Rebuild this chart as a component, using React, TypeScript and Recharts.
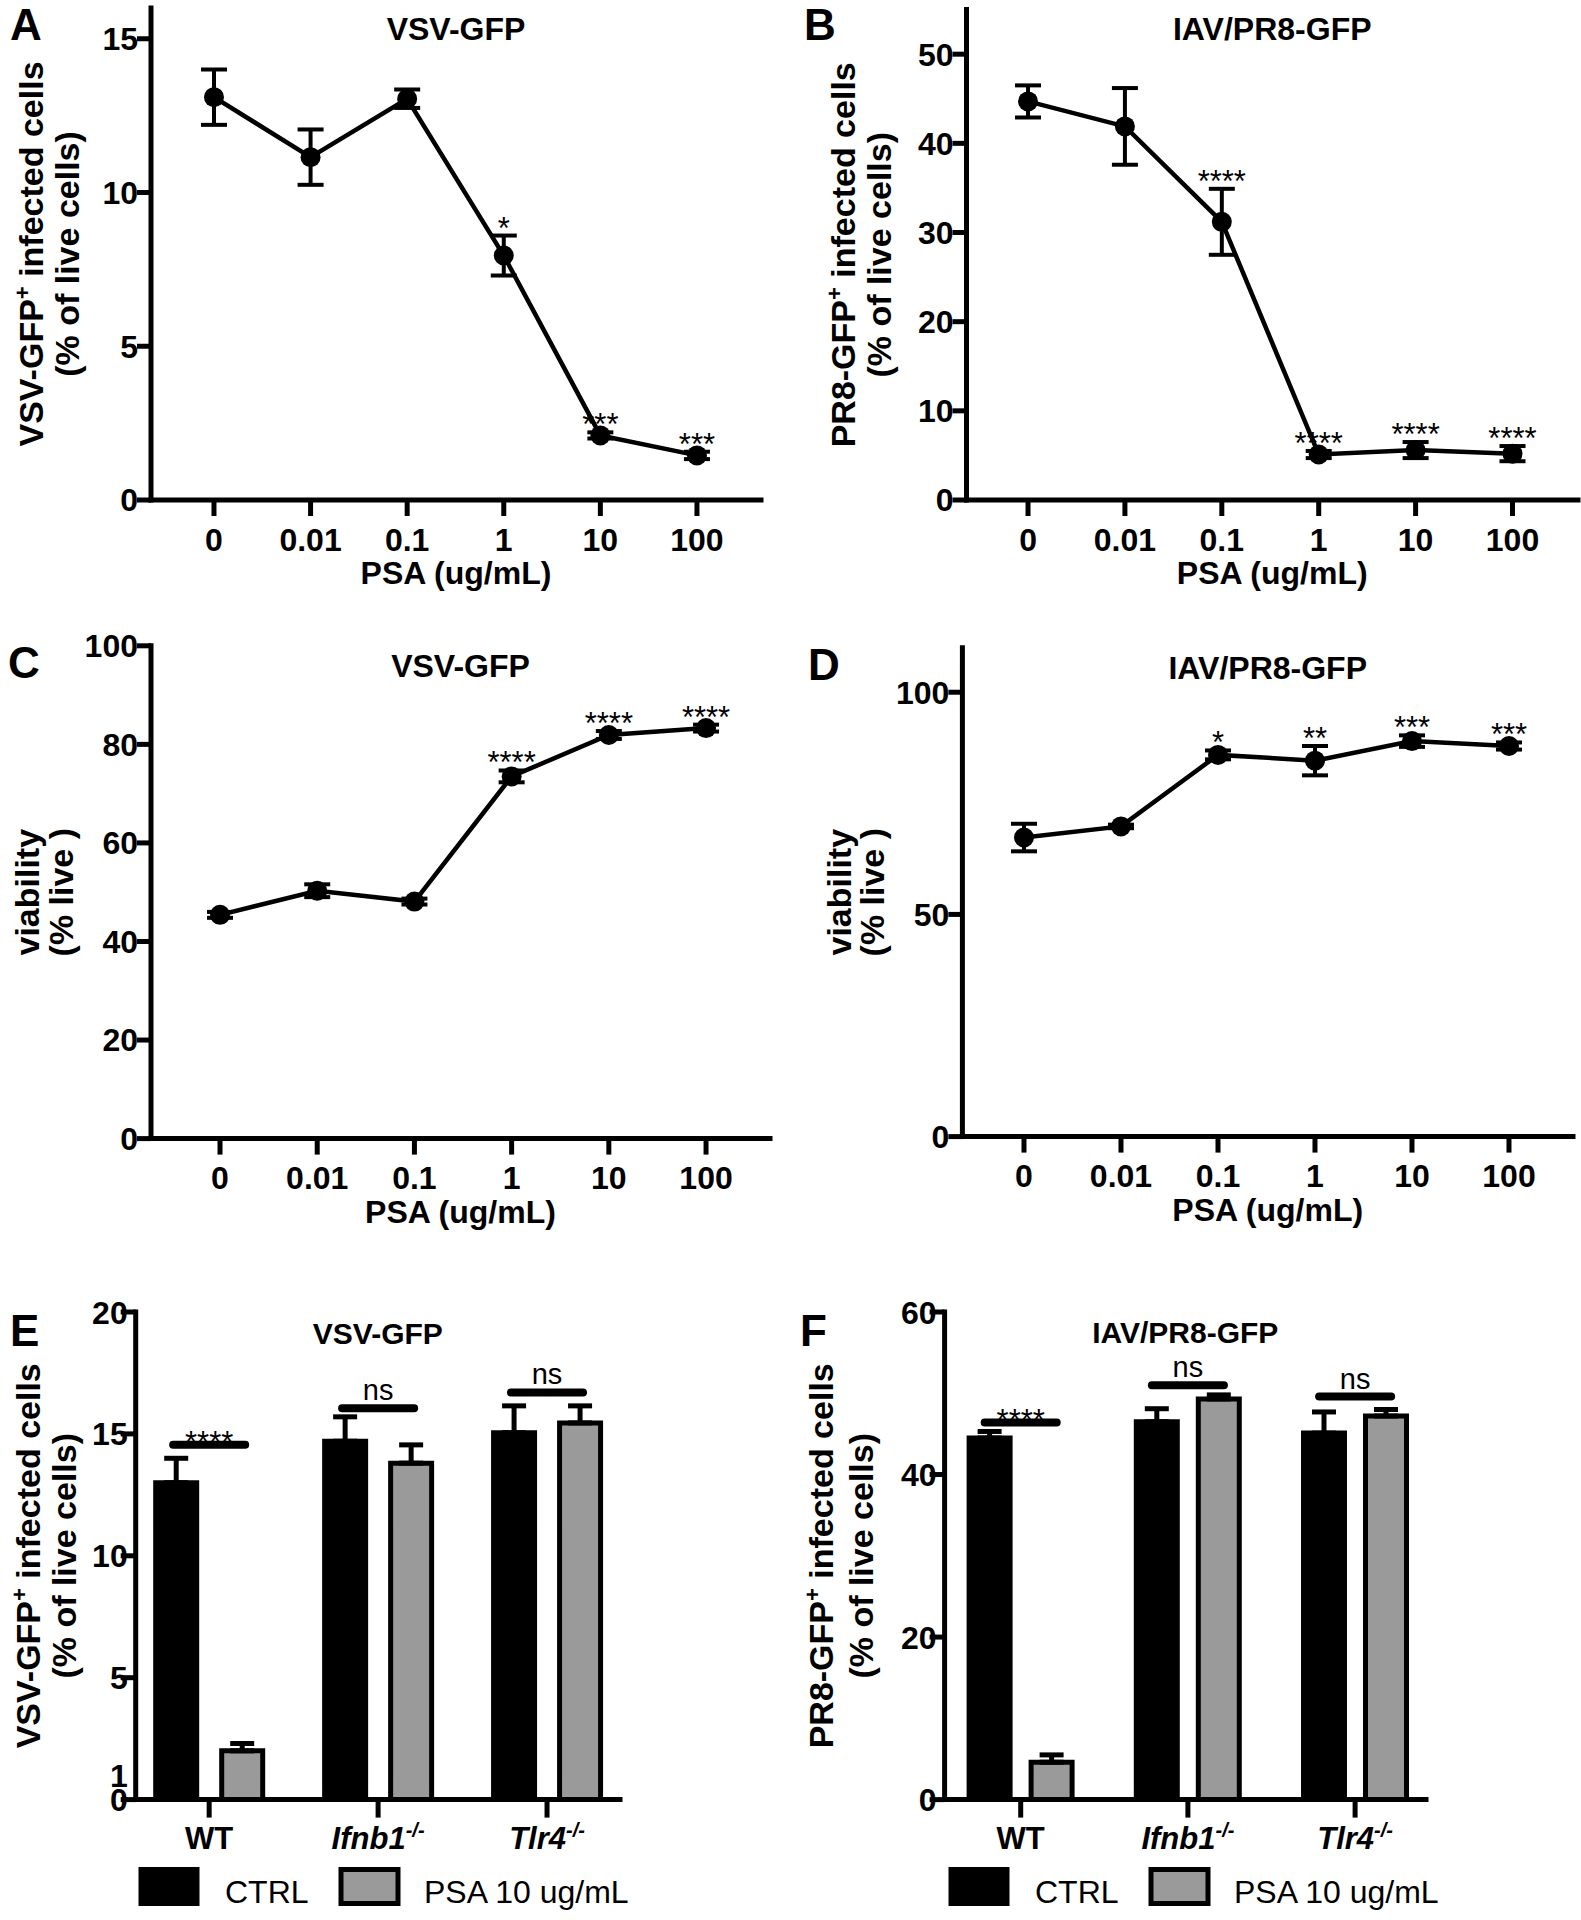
import {
  Bar,
  ComposedChart,
  ErrorBar,
  LabelList,
  Line,
  LineChart,
  ReferenceLine,
  XAxis,
  YAxis,
} from 'recharts'

const FONT = "'Liberation Sans', Arial, Helvetica, sans-serif"

// x categories for the dose-response panels
const DOSES = ['0', '0.01', '0.1', '1', '10', '100']

// A: VSV-GFP infected cells
const A_MEAN = [13.1, 11.15, 13.05, 7.95, 2.1, 1.45]
const A_SEM = [0.9, 0.9, 0.3, 0.65, 0.1, 0.12]
const A_SIG = ['', '', '', '*', '***', '***']

// B: PR8-GFP infected cells
const B_MEAN = [44.7, 41.9, 31.2, 5.1, 5.6, 5.2]
const B_SEM = [1.8, 4.3, 3.7, 0.4, 0.9, 0.85]
const B_SIG = ['', '', '****', '****', '****', '****']

// C: viability, VSV-GFP
const C_MEAN = [45.4, 50.3, 48.1, 73.5, 81.9, 83.3]
const C_SEM = [0.6, 1.3, 0.6, 1.2, 0.8, 0.7]
const C_SIG = ['', '', '', '****', '****', '****']

// D: viability, IAV/PR8-GFP
const D_MEAN = [67.3, 69.8, 85.9, 84.6, 89.0, 87.9]
const D_SEM = [3.1, 0.4, 1.0, 3.3, 1.3, 0.8]
const D_SIG = ['', '', '*', '**', '***', '***']

// E/F: genotypes
const GENOTYPES = ['WT', 'Ifnb1', 'Tlr4']
const GENO_SUP = ['', '-/-', '-/-']

const E_CTRL = [13.0, 14.7, 15.05]
const E_CTRL_SEM = [1.0, 1.0, 1.1]
const E_PSA = [2.0, 13.8, 15.45]
const E_PSA_SEM = [0.3, 0.75, 0.7]
const E_SIG_Y = [14.55, 16.05, 16.7]
const E_SIG = ['****', 'ns', 'ns']

const F_CTRL = [44.5, 46.5, 45.1]
const F_CTRL_SEM = [0.8, 1.6, 2.6]
const F_PSA = [4.6, 49.3, 47.2]
const F_PSA_SEM = [0.9, 0.5, 0.8]
const F_SIG_Y = [46.4, 51.0, 49.6]
const F_SIG = ['****', 'ns', 'ns']

const YW = 100
const XH = 100
const GRAY = '#9a9a9a'
const AXIS_LINE = { stroke: '#000', strokeWidth: 5, strokeLinecap: 'square' as const }
const TICK_LINE = { stroke: '#000', strokeWidth: 5 }
const SIG_HALF_PX = 36

type Geo = { left: number; top: number; w: number; h: number; pl: number; pt: number; pr: number; pb: number }

function marginOf(g: Geo) {
  return { top: g.pt, left: g.pl - YW, right: g.w - g.pr, bottom: g.h - g.pb - XH }
}

function Overlay({
  geo,
  letter,
  letterPos,
  title,
  titleY,
  titleSize,
  yLines,
  yOff,
  legend,
}: {
  geo: Geo
  letter: string
  letterPos: [number, number]
  title: string
  titleY: number
  titleSize: number
  yLines: [string, string, string, string]
  yOff: [number, number]
  legend?: number
}) {
  const cy = (geo.pt + geo.pb) / 2
  const cx = (geo.pl + geo.pr) / 2
  return (
    <svg
      width={geo.w}
      height={geo.h}
      style={{ position: 'absolute', left: 0, top: 0, pointerEvents: 'none', overflow: 'visible' }}
      fontFamily={FONT}
    >
      <text x={letterPos[0]} y={letterPos[1]} fontSize={44} fontWeight={700} fill="#000">
        {letter}
      </text>
      <text x={cx} y={titleY} textAnchor="middle" fontSize={titleSize} fontWeight={700} fill="#000">
        {title}
      </text>
      <text
        transform="rotate(-90)"
        x={-cy}
        y={geo.pl - yOff[0]}
        textAnchor="middle"
        fontSize={34}
        fontWeight={700}
        fill="#000"
      >
        {yLines[0]}
        {yLines[1] ? (
          <tspan dy={-13} fontSize={22}>
            {yLines[1]}
          </tspan>
        ) : null}
        {yLines[2] ? <tspan dy={yLines[1] ? 13 : 0}>{yLines[2]}</tspan> : null}
      </text>
      <text
        transform="rotate(-90)"
        x={-cy}
        y={geo.pl - yOff[1]}
        textAnchor="middle"
        fontSize={34}
        fontWeight={700}
        fill="#000"
      >
        {yLines[3]}
      </text>
      {legend !== undefined ? (
        <g>
          <rect x={legend} y={579.5} width={56} height={34} fill="#000" stroke="#000" strokeWidth={5} />
          <text x={legend + 84} y={613} fontSize={32} fill="#000">
            CTRL
          </text>
          <rect x={legend + 200} y={579.5} width={57} height={34} fill={GRAY} stroke="#000" strokeWidth={5} />
          <text x={legend + 283} y={613} fontSize={32} fill="#000">
            PSA 10 ug/mL
          </text>
        </g>
      ) : null}
    </svg>
  )
}

type LinePanelProps = {
  geo: Geo
  letter: string
  letterPos: [number, number]
  title: string
  titleY: number
  yLines: [string, string, string, string]
  yOff: [number, number]
  mean: number[]
  sem: number[]
  sig: string[]
  yDomain: [number, number]
  yTicks: number[]
  xDomain: [number, number]
}

function LinePanel(p: LinePanelProps) {
  const { geo } = p
  const rows = p.mean.map((m, i) => ({
    x: i,
    mean: m,
    sem: [p.sem[i], p.sem[i]],
    hi: m + p.sem[i],
    sig: p.sig[i],
  }))
  return (
    <div style={{ position: 'absolute', left: geo.left, top: geo.top, width: geo.w, height: geo.h }}>
      <LineChart width={geo.w} height={geo.h} data={rows} margin={marginOf(geo)}>
        <XAxis
          type="number"
          dataKey="x"
          domain={p.xDomain}
          allowDataOverflow
          ticks={DOSES.map((_, i) => i)}
          interval={0}
          tickFormatter={(v) => DOSES[v as number]}
          height={XH}
          tickSize={16}
          tickMargin={12}
          axisLine={AXIS_LINE}
          tickLine={TICK_LINE}
          tick={{ fill: '#000', fontSize: 32, fontWeight: 700, fontFamily: FONT }}
          label={{
            value: 'PSA (ug/mL)',
            position: 'insideBottom',
            offset: 16,
            fill: '#000',
            fontSize: 32,
            fontWeight: 700,
            fontFamily: FONT,
          }}
        />
        <YAxis
          type="number"
          domain={p.yDomain}
          allowDataOverflow
          ticks={p.yTicks}
          interval={0}
          width={YW}
          tickSize={14}
          tickMargin={-1}
          axisLine={AXIS_LINE}
          tickLine={TICK_LINE}
          tick={{ fill: '#000', fontSize: 32, fontWeight: 700, fontFamily: FONT }}
        />
        <Line
          dataKey="mean"
          stroke="#000"
          strokeWidth={4.5}
          dot={{ r: 10, fill: '#000', stroke: 'none' }}
          activeDot={false}
          isAnimationActive={false}
        >
          <ErrorBar dataKey="sem" width={13} strokeWidth={4} stroke="#000" direction="y" />
        </Line>
        <Line dataKey="hi" stroke="none" dot={false} activeDot={false} isAnimationActive={false}>
          <LabelList dataKey="sig" position="top" offset={-3} fill="#000" fontSize={31} fontFamily={FONT} />
        </Line>
      </LineChart>
      <Overlay
        geo={geo}
        letter={p.letter}
        letterPos={p.letterPos}
        title={p.title}
        titleY={p.titleY}
        titleSize={32}
        yLines={p.yLines}
        yOff={p.yOff}
      />
    </div>
  )
}

function GenoTick(props: any) {
  const { x, y, payload } = props
  const i = GENOTYPES.indexOf(payload.value)
  const sup = GENO_SUP[i]
  return (
    <text
      x={x}
      y={y + 31}
      textAnchor="middle"
      fontFamily={FONT}
      fontSize={31}
      fontWeight={700}
      fontStyle={sup ? 'italic' : 'normal'}
      fill="#000"
    >
      {payload.value}
      {sup ? (
        <tspan dy={-12} fontSize={20}>
          {sup}
        </tspan>
      ) : null}
    </text>
  )
}

function makeBarYTick(noLine: number[]) {
  return function BarYTick(props: any) {
    const { x, y, payload } = props
    return (
      <g>
        {noLine.includes(payload.value) ? null : (
          <line x1={x - 15} x2={x} y1={y} y2={y} stroke="#000" strokeWidth={5} />
        )}
        <text x={x - 8} y={y} dy="0.36em" textAnchor="end" fontFamily={FONT} fontSize={32} fontWeight={700} fill="#000">
          {payload.value}
        </text>
      </g>
    )
  }
}

// significance bracket drawn at the category centre given by the reference line
function SigMark(props: any) {
  const { x1, y1, text } = props
  const isNs = text === 'ns'
  return (
    <g>
      <line
        x1={x1 - SIG_HALF_PX}
        x2={x1 + SIG_HALF_PX}
        y1={y1}
        y2={y1}
        stroke="#000"
        strokeWidth={8}
        strokeLinecap="round"
      />
      <text
        x={x1}
        y={isNs ? y1 - 8 : y1 + 8}
        textAnchor="middle"
        fontFamily={FONT}
        fontSize={isNs ? 29 : 31}
        fill="#000"
      >
        {text}
      </text>
    </g>
  )
}

type BarPanelProps = {
  geo: Geo
  letter: string
  letterPos: [number, number]
  title: string
  titleY: number
  yLines: [string, string, string, string]
  yOff: [number, number]
  ctrl: number[]
  ctrlSem: number[]
  psa: number[]
  psaSem: number[]
  sigY: number[]
  sig: string[]
  yDomain: [number, number]
  yTicks: number[]
  noLineTicks: number[]
  padL: number
  padR: number
  barGap: number
  legendX: number
}

function BarPanel(p: BarPanelProps) {
  const { geo } = p
  const rows = GENOTYPES.map((g, i) => ({
    g,
    ctrl: p.ctrl[i],
    ctrlErr: [0, p.ctrlSem[i]],
    psa: p.psa[i],
    psaErr: [0, p.psaSem[i]],
  }))
  const YTick = makeBarYTick(p.noLineTicks)
  return (
    <div style={{ position: 'absolute', left: geo.left, top: geo.top, width: geo.w, height: geo.h }}>
      <ComposedChart width={geo.w} height={geo.h} data={rows} margin={marginOf(geo)} barSize={41} barGap={p.barGap}>
        <XAxis
          dataKey="g"
          padding={{ left: p.padL, right: p.padR }}
          height={XH}
          interval={0}
          tickSize={18}
          tickMargin={0}
          axisLine={AXIS_LINE}
          tickLine={TICK_LINE}
          tick={<GenoTick />}
        />
        <YAxis
          type="number"
          domain={p.yDomain}
          allowDataOverflow
          ticks={p.yTicks}
          interval={0}
          width={YW}
          tickSize={0}
          tickMargin={0}
          axisLine={AXIS_LINE}
          tickLine={false}
          tick={<YTick />}
        />
        <Bar dataKey="ctrl" fill="#000" stroke="#000" strokeWidth={5} isAnimationActive={false}>
          <ErrorBar dataKey="ctrlErr" width={12} strokeWidth={5} stroke="#000" direction="y" />
        </Bar>
        <Bar dataKey="psa" fill={GRAY} stroke="#000" strokeWidth={5} isAnimationActive={false}>
          <ErrorBar dataKey="psaErr" width={12} strokeWidth={5} stroke="#000" direction="y" />
        </Bar>
        {p.sigY.map((v, i) => (
          <ReferenceLine
            key={i}
            segment={[
              { x: GENOTYPES[i], y: v },
              { x: GENOTYPES[i], y: v },
            ]}
            ifOverflow="visible"
            shape={(sp: any) => <SigMark {...sp} text={p.sig[i]} />}
          />
        ))}
      </ComposedChart>
      <Overlay
        geo={geo}
        letter={p.letter}
        letterPos={p.letterPos}
        title={p.title}
        titleY={p.titleY}
        titleSize={30}
        yLines={p.yLines}
        yOff={p.yOff}
        legend={p.legendX}
      />
    </div>
  )
}

const VSV_LABEL: [string, string, string, string] = ['VSV-GFP', '+', ' infected cells', '(% of live cells)']
const PR8_LABEL: [string, string, string, string] = ['PR8-GFP', '+', ' infected cells', '(% of live cells)']
const VIA_LABEL: [string, string, string, string] = ['viability', '', '', '(% live )']

export default function App() {
  return (
    <div
      style={{
        position: 'absolute',
        left: 0,
        top: 0,
        width: 1581,
        height: 1920,
        background: '#fff',
        fontFamily: FONT,
      }}
    >
      <LinePanel
        geo={{ left: 0, top: 0, w: 790, h: 600, pl: 151, pt: 8, pr: 761, pb: 500 }}
        letter="A"
        letterPos={[10, 40]}
        title="VSV-GFP"
        titleY={40}
        yLines={VSV_LABEL}
        yOff={[108, 72]}
        mean={A_MEAN}
        sem={A_SEM}
        sig={A_SIG}
        yDomain={[0, 16]}
        yTicks={[0, 5, 10, 15]}
        xDomain={[-0.652, 5.663]}
      />
      <LinePanel
        geo={{ left: 790, top: 0, w: 791, h: 600, pl: 176.5, pt: 9.6, pr: 788, pb: 500 }}
        letter="B"
        letterPos={[14, 40]}
        title="IAV/PR8-GFP"
        titleY={40}
        yLines={PR8_LABEL}
        yOff={[112, 76]}
        mean={B_MEAN}
        sem={B_SEM}
        sig={B_SIG}
        yDomain={[0, 55]}
        yTicks={[0, 10, 20, 30, 40, 50]}
        xDomain={[-0.635, 5.676]}
      />
      <LinePanel
        geo={{ left: 0, top: 620, w: 790, h: 620, pl: 151, pt: 25.8, pr: 770, pb: 518.6 }}
        letter="C"
        letterPos={[8, 58]}
        title="VSV-GFP"
        titleY={57}
        yLines={VIA_LABEL}
        yOff={[112, 78]}
        mean={C_MEAN}
        sem={C_SEM}
        sig={C_SIG}
        yDomain={[0, 100]}
        yTicks={[0, 20, 40, 60, 80, 100]}
        xDomain={[-0.71, 5.658]}
      />
      <LinePanel
        geo={{ left: 790, top: 620, w: 791, h: 620, pl: 172.4, pt: 27.8, pr: 783, pb: 516.6 }}
        letter="D"
        letterPos={[18, 60]}
        title="IAV/PR8-GFP"
        titleY={59}
        yLines={VIA_LABEL}
        yOff={[111, 78]}
        mean={D_MEAN}
        sem={D_SEM}
        sig={D_SIG}
        yDomain={[0, 110]}
        yTicks={[0, 50, 100]}
        xDomain={[-0.635, 5.66]}
      />
      <BarPanel
        geo={{ left: 0, top: 1290, w: 790, h: 630, pl: 135.7, pt: 22, pr: 620, pb: 509.6 }}
        letter="E"
        letterPos={[10, 56]}
        title="VSV-GFP"
        titleY={54}
        yLines={VSV_LABEL}
        yOff={[96, 60]}
        ctrl={E_CTRL}
        ctrlSem={E_CTRL_SEM}
        psa={E_PSA}
        psaSem={E_PSA_SEM}
        sigY={E_SIG_Y}
        sig={E_SIG}
        yDomain={[0, 20]}
        yTicks={[0, 1, 5, 10, 15, 20]}
        noLineTicks={[1]}
        padL={-11}
        padR={-11.5}
        barGap={25}
        legendX={141}
      />
      <BarPanel
        geo={{ left: 790, top: 1290, w: 791, h: 630, pl: 154.6, pt: 22, pr: 636, pb: 509.6 }}
        letter="F"
        letterPos={[10, 56]}
        title="IAV/PR8-GFP"
        titleY={53}
        yLines={PR8_LABEL}
        yOff={[112, 72]}
        ctrl={F_CTRL}
        ctrlSem={F_CTRL_SEM}
        psa={F_PSA}
        psaSem={F_PSA_SEM}
        sigY={F_SIG_Y}
        sig={F_SIG}
        yDomain={[0, 60]}
        yTicks={[0, 20, 40, 60]}
        noLineTicks={[]}
        padL={-7.5}
        padR={-12.7}
        barGap={21}
        legendX={161}
      />
    </div>
  )
}
